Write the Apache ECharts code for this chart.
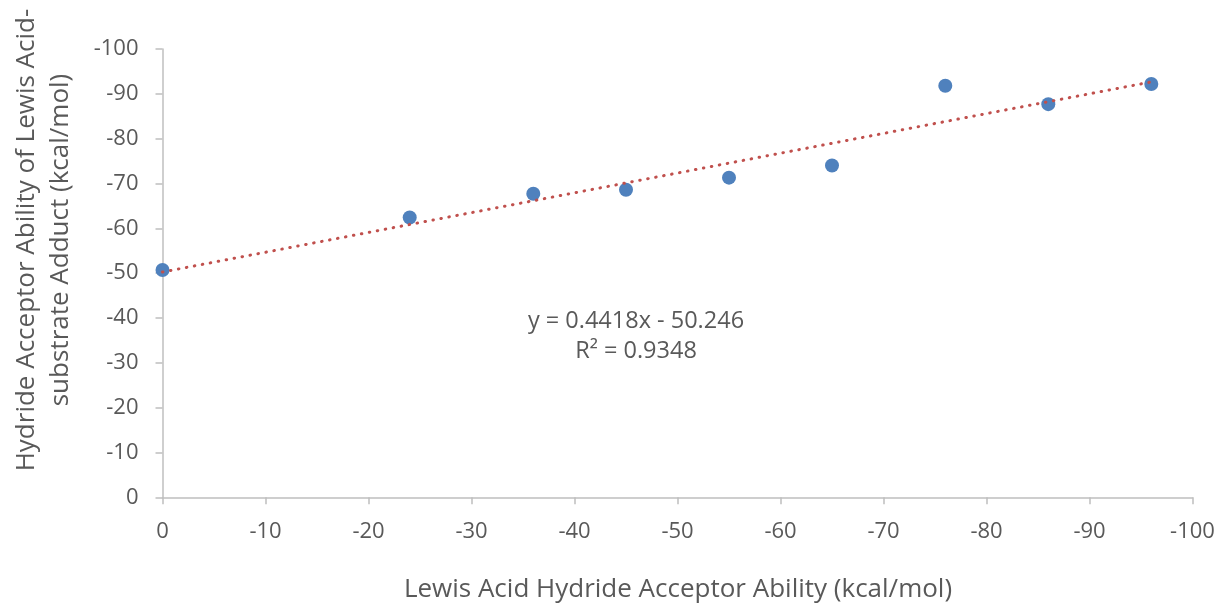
<!DOCTYPE html>
<html>
<head>
<meta charset="utf-8">
<script src="https://cdn.jsdelivr.net/npm/echarts@6/dist/echarts.min.js"></script>
<style>
  html, body { margin: 0; padding: 0; background: #ffffff; }
  #chart { width: 1220px; height: 603px; }
</style>
</head>
<body>
<div id="chart"></div>
<script>
// Lewis acid hydride acceptor ability (x) vs. that of the Lewis acid–substrate adduct (y), kcal/mol
const lewisAcidHA = [0, -24, -36, -45, -55, -65, -76, -86, -96];
const adductHA = [-50.7, -62.4, -67.7, -68.6, -71.3, -74.0, -91.8, -87.7, -92.2];

// Linear trendline as reported in the equation label
const trendSlope = 0.4418;
const trendIntercept = -50.246;
const trendR2 = 0.9348;

const axisTicks = [0, -10, -20, -30, -40, -50, -60, -70, -80, -90, -100];

const points = lewisAcidHA.map((x, i) => [x, adductHA[i]]);
const xMin = Math.min(...lewisAcidHA);
const xMax = Math.max(...lewisAcidHA);
const trendPoints = [xMax, xMin].map(x => [x, trendSlope * x + trendIntercept]);

const FONT = '"Open Sans", sans-serif';
const TEXT = '#595959';
const AXIS = '#BFBFBF';

const chart = echarts.init(document.getElementById('chart'), null, { renderer: 'canvas' });

const axisCommon = {
  type: 'value',
  min: axisTicks[axisTicks.length - 1],
  max: axisTicks[0],
  interval: 10,
  inverse: true,
  splitLine: { show: false },
  axisLine: { show: true, onZero: false, lineStyle: { color: AXIS, width: 1.5 } },
  axisTick: { show: true, inside: false, length: 7, lineStyle: { color: AXIS, width: 1.5 } },
  axisLabel: { color: TEXT, fontFamily: FONT, fontSize: 22 }
};

chart.setOption({
  animation: false,
  backgroundColor: '#ffffff',
  grid: { left: 162.5, right: 27.5, top: 49, bottom: 105.7, containLabel: false },
  xAxis: Object.assign({}, axisCommon, {
    axisLabel: Object.assign({}, axisCommon.axisLabel, { margin: 23 })
  }),
  yAxis: Object.assign({}, axisCommon, {
    axisLabel: Object.assign({}, axisCommon.axisLabel, { margin: 24 })
  }),
  series: [
    {
      type: 'scatter',
      data: points,
      symbol: 'circle',
      symbolSize: 14,
      itemStyle: { color: '#4F81BD', opacity: 1 },
      z: 2
    },
    {
      type: 'line',
      data: trendPoints,
      showSymbol: false,
      symbol: 'none',
      lineStyle: { color: '#C0504D', width: 3, type: [0.5, 7.6], cap: 'round' },
      z: 3
    }
  ],
  graphic: [
    {
      type: 'text',
      x: 678, y: 590,
      style: {
        text: 'Lewis Acid Hydride Acceptor Ability (kcal/mol)',
        fill: TEXT, font: '26px ' + FONT,
        align: 'center', verticalAlign: 'middle'
      }
    },
    {
      type: 'text',
      x: 44, y: 240,
      rotation: Math.PI / 2,
      style: {
        text: 'Hydride Acceptor Ability of Lewis Acid-\nsubstrate Adduct (kcal/mol)',
        fill: TEXT, font: '26px ' + FONT,
        align: 'center', verticalAlign: 'middle', lineHeight: 34
      }
    },
    {
      type: 'text',
      x: 636, y: 336,
      style: {
        text: 'y = ' + trendSlope + 'x - ' + Math.abs(trendIntercept) + '\nR\u00B2 = ' + trendR2,
        fill: TEXT, font: '23.5px ' + FONT,
        align: 'center', verticalAlign: 'middle', lineHeight: 30
      }
    }
  ]
});
</script>
</body>
</html>
